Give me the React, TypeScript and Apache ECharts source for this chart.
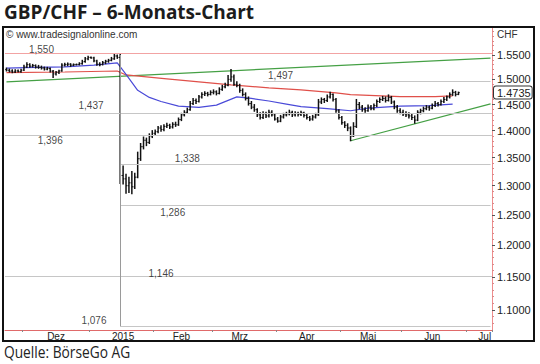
import React, { useEffect, useRef } from 'react';
import * as echarts from 'echarts';

const TITLE = 'GBP/CHF – 6-Monats-Chart';
const SOURCE = 'Quelle: BörseGo AG';
const WATERMARK = '© www.tradesignalonline.com';
const CURRENCY = 'CHF';

// trading-day axis (weekdays)
const FIRST_DAY = '2014-11-21';
const LAST_DAY = '2015-07-13';

const monthStartDates = ['2014-12-01', '2015-01-01', '2015-02-02', '2015-03-02', '2015-04-01', '2015-05-01', '2015-06-01', '2015-07-01'];
const monthLabelDates = ['2014-12-16', '2015-01-16', '2015-02-13', '2015-03-13', '2015-04-15', '2015-05-14', '2015-06-15', '2015-07-09'];
const monthLabels = ['Dez', '2015', 'Feb', 'Mrz', 'Apr', 'Mai', 'Jun', 'Jul'];

// right axis (logarithmic price scale)
const yAxisMin = 1.0705;
const yAxisMax = 1.6074;
const yTickValues = [1.1, 1.15, 1.2, 1.25, 1.3, 1.35, 1.4, 1.45, 1.5, 1.55];
const yMinorTickValues = [
  1.08, 1.09, 1.11, 1.12, 1.13, 1.14, 1.16, 1.17, 1.18, 1.19, 1.21, 1.22, 1.23, 1.24,
  1.26, 1.27, 1.28, 1.29, 1.31, 1.32, 1.33, 1.34, 1.36, 1.37, 1.38, 1.39, 1.41, 1.42,
  1.43, 1.44, 1.46, 1.47, 1.48, 1.49, 1.51, 1.52, 1.53, 1.54, 1.56, 1.57, 1.58, 1.59, 1.6,
];
const lastPrice = 1.4735;

// daily bars from FIRST_DAY: [open, high, low, close]
const ohlc: number[][] = [
  [1.5200, 1.5230, 1.5170, 1.5190], [1.5185, 1.5210, 1.5150, 1.5165], [1.5170, 1.5195, 1.5135, 1.5150],
  [1.5150, 1.5195, 1.5140, 1.5170], [1.5172, 1.5190, 1.5150, 1.5160], [1.5158, 1.5205, 1.5145, 1.5185],
  [1.5190, 1.5290, 1.5180, 1.5250], [1.5255, 1.5340, 1.5240, 1.5300], [1.5300, 1.5320, 1.5245, 1.5270],
  [1.5268, 1.5305, 1.5250, 1.5280], [1.5282, 1.5295, 1.5230, 1.5250], [1.5250, 1.5285, 1.5225, 1.5245],
  [1.5245, 1.5270, 1.5210, 1.5230], [1.5232, 1.5250, 1.5190, 1.5210], [1.5210, 1.5245, 1.5195, 1.5225],
  [1.5222, 1.5230, 1.5150, 1.5170], [1.5165, 1.5180, 1.5040, 1.5110], [1.5110, 1.5160, 1.5090, 1.5145],
  [1.5145, 1.5185, 1.5120, 1.5170], [1.5175, 1.5320, 1.5165, 1.5290], [1.5290, 1.5330, 1.5270, 1.5300],
  [1.5300, 1.5335, 1.5280, 1.5310], [1.5310, 1.5320, 1.5265, 1.5290], [1.5290, 1.5315, 1.5280, 1.5300],
  [1.5300, 1.5312, 1.5295, 1.5305], [1.5305, 1.5340, 1.5295, 1.5320], [1.5320, 1.5390, 1.5310, 1.5360],
  [1.5365, 1.5450, 1.5350, 1.5420], [1.5420, 1.5475, 1.5400, 1.5450], [1.5450, 1.5460, 1.5435, 1.5440],
  [1.5440, 1.5455, 1.5360, 1.5380], [1.5375, 1.5390, 1.5290, 1.5310], [1.5310, 1.5340, 1.5280, 1.5300],
  [1.5300, 1.5365, 1.5295, 1.5340], [1.5340, 1.5390, 1.5320, 1.5370], [1.5370, 1.5410, 1.5350, 1.5390],
  [1.5390, 1.5450, 1.5380, 1.5420], [1.5420, 1.5520, 1.5410, 1.5480], [1.5480, 1.5500, 1.5430, 1.5450],
  [1.5450, 1.5510, 1.3040, 1.3180], [1.3180, 1.3350, 1.3030, 1.3120], [1.3120, 1.3200, 1.2870, 1.3000],
  [1.3000, 1.3150, 1.2880, 1.3050], [1.3050, 1.3250, 1.2860, 1.2980], [1.2980, 1.3220, 1.2950, 1.3150],
  [1.3150, 1.3600, 1.3140, 1.3480], [1.3480, 1.3760, 1.3450, 1.3700], [1.3700, 1.3880, 1.3660, 1.3820],
  [1.3820, 1.3860, 1.3720, 1.3780], [1.3780, 1.3940, 1.3760, 1.3900], [1.3900, 1.4000, 1.3870, 1.3950],
  [1.3950, 1.4010, 1.3920, 1.3980], [1.3980, 1.4080, 1.3960, 1.4050], [1.4050, 1.4090, 1.3990, 1.4020],
  [1.4020, 1.4110, 1.4000, 1.4080], [1.4080, 1.4140, 1.4060, 1.4100], [1.4100, 1.4120, 1.4040, 1.4070],
  [1.4070, 1.4150, 1.4050, 1.4120], [1.4120, 1.4160, 1.4080, 1.4110], [1.4110, 1.4240, 1.4100, 1.4210],
  [1.4210, 1.4330, 1.4190, 1.4300], [1.4300, 1.4380, 1.4280, 1.4350], [1.4350, 1.4430, 1.4330, 1.4400],
  [1.4400, 1.4560, 1.4390, 1.4520], [1.4520, 1.4620, 1.4500, 1.4580], [1.4580, 1.4610, 1.4520, 1.4560],
  [1.4560, 1.4680, 1.4550, 1.4650], [1.4650, 1.4730, 1.4630, 1.4700], [1.4700, 1.4750, 1.4680, 1.4720],
  [1.4720, 1.4740, 1.4670, 1.4700], [1.4700, 1.4770, 1.4690, 1.4740], [1.4740, 1.4790, 1.4710, 1.4750],
  [1.4750, 1.4770, 1.4690, 1.4720], [1.4720, 1.4830, 1.4710, 1.4800], [1.4800, 1.4880, 1.4780, 1.4850],
  [1.4850, 1.4920, 1.4830, 1.4880], [1.4880, 1.5080, 1.4870, 1.5000], [1.5000, 1.5200, 1.4960, 1.5050],
  [1.5050, 1.5090, 1.4880, 1.4900], [1.4900, 1.4950, 1.4850, 1.4880], [1.4880, 1.4900, 1.4740, 1.4780],
  [1.4780, 1.4810, 1.4670, 1.4700], [1.4700, 1.4730, 1.4590, 1.4620], [1.4620, 1.4650, 1.4490, 1.4520],
  [1.4520, 1.4560, 1.4420, 1.4450], [1.4450, 1.4500, 1.4370, 1.4400], [1.4400, 1.4420, 1.4270, 1.4300],
  [1.4300, 1.4340, 1.4220, 1.4250], [1.4250, 1.4360, 1.4230, 1.4320], [1.4320, 1.4350, 1.4250, 1.4280],
  [1.4280, 1.4390, 1.4260, 1.4350], [1.4350, 1.4380, 1.4280, 1.4300], [1.4300, 1.4320, 1.4200, 1.4220],
  [1.4220, 1.4250, 1.4160, 1.4180], [1.4180, 1.4290, 1.4170, 1.4260], [1.4260, 1.4330, 1.4240, 1.4300],
  [1.4300, 1.4350, 1.4280, 1.4320], [1.4320, 1.4390, 1.4300, 1.4350], [1.4350, 1.4370, 1.4270, 1.4300],
  [1.4300, 1.4360, 1.4280, 1.4330], [1.4330, 1.4350, 1.4280, 1.4310], [1.4310, 1.4370, 1.4290, 1.4340],
  [1.4340, 1.4350, 1.4260, 1.4290], [1.4290, 1.4310, 1.4220, 1.4250], [1.4250, 1.4270, 1.4190, 1.4220],
  [1.4220, 1.4290, 1.4200, 1.4260], [1.4260, 1.4330, 1.4240, 1.4300], [1.4300, 1.4600, 1.4290, 1.4550],
  [1.4550, 1.4630, 1.4520, 1.4600], [1.4600, 1.4620, 1.4540, 1.4580], [1.4580, 1.4690, 1.4560, 1.4650],
  [1.4650, 1.4740, 1.4630, 1.4700], [1.4700, 1.4710, 1.4570, 1.4600], [1.4600, 1.4620, 1.4350, 1.4380],
  [1.4380, 1.4400, 1.4220, 1.4250], [1.4250, 1.4270, 1.4120, 1.4150], [1.4150, 1.4170, 1.4060, 1.4100],
  [1.4100, 1.4130, 1.4000, 1.4050], [1.4050, 1.4070, 1.3810, 1.3900], [1.3900, 1.4150, 1.3890, 1.4080],
  [1.4080, 1.4600, 1.4060, 1.4500], [1.4500, 1.4540, 1.4420, 1.4450], [1.4450, 1.4480, 1.4370, 1.4400],
  [1.4400, 1.4440, 1.4350, 1.4380], [1.4380, 1.4490, 1.4370, 1.4450], [1.4450, 1.4480, 1.4400, 1.4420],
  [1.4420, 1.4510, 1.4400, 1.4480], [1.4480, 1.4590, 1.4460, 1.4560], [1.4560, 1.4630, 1.4540, 1.4600],
  [1.4600, 1.4660, 1.4580, 1.4620], [1.4620, 1.4650, 1.4550, 1.4580], [1.4580, 1.4690, 1.4570, 1.4640],
  [1.4640, 1.4660, 1.4520, 1.4550], [1.4550, 1.4570, 1.4420, 1.4450], [1.4450, 1.4480, 1.4350, 1.4380],
  [1.4380, 1.4420, 1.4320, 1.4350], [1.4350, 1.4390, 1.4290, 1.4320], [1.4320, 1.4360, 1.4270, 1.4300],
  [1.4300, 1.4340, 1.4240, 1.4280], [1.4280, 1.4310, 1.4210, 1.4250], [1.4250, 1.4280, 1.4140, 1.4200],
  [1.4200, 1.4380, 1.4190, 1.4350], [1.4350, 1.4410, 1.4320, 1.4380], [1.4380, 1.4450, 1.4360, 1.4420],
  [1.4420, 1.4480, 1.4400, 1.4450], [1.4450, 1.4470, 1.4390, 1.4430], [1.4430, 1.4510, 1.4420, 1.4480],
  [1.4480, 1.4560, 1.4460, 1.4520], [1.4520, 1.4540, 1.4470, 1.4500], [1.4500, 1.4590, 1.4490, 1.4560],
  [1.4560, 1.4640, 1.4540, 1.4600], [1.4600, 1.4670, 1.4580, 1.4650], [1.4650, 1.4730, 1.4630, 1.4700],
  [1.4700, 1.4790, 1.4680, 1.4740], [1.4740, 1.4760, 1.4670, 1.4700], [1.4700, 1.4745, 1.4695, 1.4735],
];

// moving averages
const maFast: [string, number][] = [
  ['2014-11-21', 1.5230], ['2014-12-05', 1.5245], ['2014-12-19', 1.5255], ['2015-01-02', 1.5290],
  ['2015-01-14', 1.5335], ['2015-01-19', 1.5100], ['2015-01-23', 1.4780], ['2015-01-29', 1.4640],
  ['2015-02-04', 1.4560], ['2015-02-12', 1.4470], ['2015-02-23', 1.4445], ['2015-03-03', 1.4490],
  ['2015-03-12', 1.4650], ['2015-03-19', 1.4620], ['2015-03-27', 1.4570], ['2015-04-06', 1.4510],
  ['2015-04-13', 1.4460], ['2015-04-24', 1.4420], ['2015-05-06', 1.4380], ['2015-05-14', 1.4430],
  ['2015-05-29', 1.4470], ['2015-06-12', 1.4480], ['2015-06-24', 1.4510],
];
const maSlow: [string, number][] = [
  ['2014-11-21', 1.5137], ['2014-12-19', 1.5150], ['2015-01-14', 1.5170], ['2015-01-19', 1.5090],
  ['2015-02-06', 1.5010], ['2015-02-23', 1.4950], ['2015-03-10', 1.4890], ['2015-03-27', 1.4830],
  ['2015-04-13', 1.4790], ['2015-04-29', 1.4730], ['2015-05-06', 1.4695], ['2015-05-29', 1.4655],
  ['2015-06-16', 1.4655], ['2015-06-24', 1.4670],
];

// trend lines
const upperTrend: [string, number][] = [['2014-11-21', 1.4950], ['2015-07-13', 1.5436]];
const lowerTrend: [string, number][] = [['2015-05-06', 1.3810], ['2015-07-13', 1.4513]];

// horizontal levels
const levelValues = [1.550, 1.497, 1.437, 1.396, 1.338, 1.266, 1.146, 1.076];
const levelTexts = ['1,550', '1,497', '1,437', '1,396', '1,338', '1,286', '1,146', '1,076'];
const levelStarts: (string | null)[] = [null, '2015-03-25', null, null, '2015-01-15', '2015-01-15', null, '2015-01-15'];
const crashDay = '2015-01-15';
const crashRange = [1.55, 1.076];

// label layout
const levelLabelAnchor = ['2014-12-09', '2015-04-02', '2015-01-01', '2014-12-12', '2015-02-17', '2015-02-10', '2015-02-04', '2015-01-02'];
const levelLabelSide = ['top', 'top', 'top', 'bottom', 'top', 'bottom', 'top', 'top'];

const ln = Math.log;

function weekdays(from: string, to: string): string[] {
  const out: string[] = [];
  const d = new Date(from + 'T00:00:00Z');
  const end = new Date(to + 'T00:00:00Z');
  while (d <= end) {
    const wd = d.getUTCDay();
    if (wd !== 0 && wd !== 6) out.push(d.toISOString().slice(0, 10));
    d.setUTCDate(d.getUTCDate() + 1);
  }
  return out;
}

const AX_FONT = '"Liberation Sans", Arial, sans-serif';

export default function App() {
  const ref = useRef<HTMLDivElement>(null);

  useEffect(() => {
    if (!ref.current) return;
    const chart = echarts.init(ref.current, null, { renderer: 'svg', width: 540, height: 364 });
    const dates = weekdays(FIRST_DAY, LAST_DAY);
    const lastDate = dates[dates.length - 1];

    const barData = ohlc.map((r, i) => [i, ln(r[0]), ln(r[1]), ln(r[2]), ln(r[3])]);

    const markLines: any[] = [];
    levelValues.forEach((v, i) => {
      const color = i === 0 ? '#f2a3a3' : '#c6c6c6';
      const start = levelStarts[i];
      if (start === null) {
        markLines.push({ yAxis: ln(v), lineStyle: { color, width: 1.2, type: 'solid' } });
      } else {
        markLines.push([
          { coord: [start, ln(v)], lineStyle: { color, width: 1.2, type: 'solid' } },
          { coord: [lastDate, ln(v)] },
        ]);
      }
    });
    markLines.push([
      { coord: [crashDay, ln(crashRange[0])], lineStyle: { color: '#9a9a9a', width: 1, type: 'solid' } },
      { coord: [crashDay, ln(crashRange[1])] },
    ]);

    const option: any = {
      animation: false,
      backgroundColor: '#ffffff',
      grid: { left: 5, right: 48, top: 28, bottom: 34, containLabel: false },
      xAxis: {
        type: 'category',
        data: dates,
        boundaryGap: true,
        axisLine: { show: true, lineStyle: { color: '#e06a6a', width: 1 } },
        axisTick: {
          show: true,
          length: 2,
          lineStyle: { color: '#888' },
          interval: (_i: number, v: string) => monthStartDates.indexOf(v) >= 0,
        },
        axisLabel: {
          interval: (_i: number, v: string) => monthLabelDates.indexOf(v) >= 0,
          formatter: (v: string) => {
            const k = monthLabelDates.indexOf(v);
            return k >= 0 ? monthLabels[k] : '';
          },
          fontSize: 10,
          fontFamily: AX_FONT,
          color: '#222',
          margin: 1,
        },
        splitLine: { show: false },
      },
      yAxis: [
        {
          type: 'value',
          position: 'right',
          min: ln(yAxisMin),
          max: ln(yAxisMax),
          axisLine: { show: true, lineStyle: { color: '#ef8c8c', width: 1 } },
          axisTick: { show: true, length: 3, lineStyle: { color: '#555' }, customValues: yTickValues.map(ln) },
          axisLabel: {
            customValues: yTickValues.map(ln),
            formatter: (v: number) => Math.exp(v).toFixed(4),
            fontSize: 11,
            fontFamily: AX_FONT,
            color: '#222',
            margin: 5,
          },
          splitLine: { show: false },
        },
        {
          type: 'value',
          position: 'right',
          min: ln(yAxisMin),
          max: ln(yAxisMax),
          axisLine: { show: false },
          axisTick: { show: true, length: 2, lineStyle: { color: '#d98a8a' }, customValues: yMinorTickValues.map(ln) },
          axisLabel: { show: false },
          splitLine: { show: false },
        },
        {
          type: 'value',
          position: 'right',
          z: 20,
          min: ln(yAxisMin),
          max: ln(yAxisMax),
          axisLine: { show: false },
          axisTick: { show: false },
          axisLabel: {
            customValues: [ln(lastPrice)],
            formatter: () => lastPrice.toFixed(4),
            fontSize: 11,
            fontFamily: AX_FONT,
            color: '#222',
            margin: 2,
            backgroundColor: '#ffffff',
            borderColor: '#333',
            borderWidth: 1,
            borderRadius: 2,
            padding: [1, 1, 0, 3],
          },
          splitLine: { show: false },
        },
      ],
      series: [
        {
          type: 'line',
          data: [],
          z: 1,
          silent: true,
          markLine: {
            silent: true,
            symbol: ['none', 'none'],
            label: { show: false },
            animation: false,
            data: markLines,
          },
        },
        {
          type: 'line',
          z: 2,
          silent: true,
          showSymbol: false,
          data: upperTrend.map(([d, v]) => [d, ln(v)]),
          lineStyle: { color: '#45a045', width: 1.2 },
        },
        {
          type: 'line',
          z: 2,
          silent: true,
          showSymbol: false,
          data: lowerTrend.map(([d, v]) => [d, ln(v)]),
          lineStyle: { color: '#45a045', width: 1.2 },
        },
        {
          type: 'line',
          z: 3,
          silent: true,
          showSymbol: false,
          data: maSlow.map(([d, v]) => [d, ln(v)]),
          lineStyle: { color: '#e0504a', width: 1.2 },
        },
        {
          type: 'line',
          z: 3,
          silent: true,
          showSymbol: false,
          data: maFast.map(([d, v]) => [d, ln(v)]),
          lineStyle: { color: '#4a4ad8', width: 1.2 },
        },
        {
          type: 'custom',
          z: 4,
          silent: true,
          clip: true,
          encode: { x: 0, y: [1, 2, 3, 4] },
          data: barData,
          renderItem: (_p: any, api: any) => {
            const x = api.value(0);
            const o = api.coord([x, api.value(1)]);
            const h = api.coord([x, api.value(2)]);
            const l = api.coord([x, api.value(3)]);
            const c = api.coord([x, api.value(4)]);
            const w = api.size([1, 0])[0] * 0.42;
            const st = { stroke: '#111', lineWidth: 1 };
            return {
              type: 'group',
              children: [
                { type: 'line', shape: { x1: h[0], y1: h[1] - 0.5, x2: l[0], y2: l[1] + 0.5 }, style: { stroke: '#111', lineWidth: 1.5 } },
                { type: 'line', shape: { x1: o[0] - w, y1: o[1], x2: o[0], y2: o[1] }, style: st },
                { type: 'line', shape: { x1: c[0], y1: c[1], x2: c[0] + w, y2: c[1] }, style: st },
              ],
            };
          },
        },
        {
          type: 'scatter',
          z: 6,
          silent: true,
          symbolSize: 1,
          itemStyle: { color: 'rgba(0,0,0,0)' },
          data: levelValues.map((v, i) => ({
            name: levelTexts[i],
            value: [levelLabelAnchor[i], ln(v)],
            label: {
              show: true,
              position: levelLabelSide[i],
              distance: levelLabelSide[i] === 'top' ? 0 : 2,
              formatter: '{b}',
              fontSize: 10,
              fontFamily: AX_FONT,
              color: '#111',
            },
          })),
        },
      ],
      graphic: [
        {
          type: 'text',
          x: 4,
          y: 2,
          silent: true,
          style: { text: TITLE, font: 'bold 19px "Open Sans", sans-serif', fill: '#1c1c1c', verticalAlign: 'top' },
        },
        {
          type: 'rect',
          silent: true,
          shape: { x: 3, y: 27, width: 531, height: 314 },
          style: { fill: 'none', stroke: '#111', lineWidth: 2 },
          z: 50,
        },
        {
          type: 'text',
          x: 6,
          y: 29,
          silent: true,
          style: { text: WATERMARK, font: '10px "Liberation Sans", Arial, sans-serif', fill: '#333', verticalAlign: 'top' },
        },
        {
          type: 'text',
          x: 497,
          y: 29,
          silent: true,
          style: { text: CURRENCY, font: '10px "Liberation Sans", Arial, sans-serif', fill: '#333', verticalAlign: 'top' },
        },
        {
          type: 'text',
          x: 4,
          y: 344,
          scaleX: 0.86,
          silent: true,
          style: { text: SOURCE, font: '16px "Open Sans", sans-serif', fill: '#222', verticalAlign: 'top' },
        },
      ],
    };

    chart.setOption(option);
    return () => chart.dispose();
  }, []);

  return (
    <div
      ref={ref}
      style={{ position: 'absolute', left: 0, top: 0, width: 540, height: 364, background: '#fff' }}
    />
  );
}
